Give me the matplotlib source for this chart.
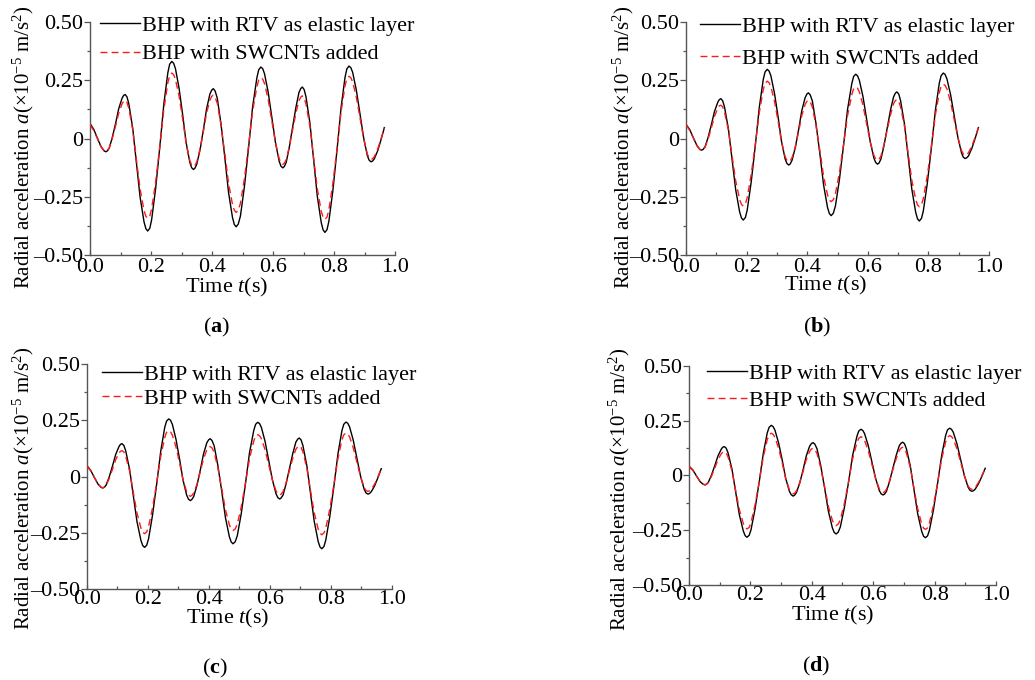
import matplotlib
matplotlib.use("Agg")
import matplotlib.pyplot as plt
from matplotlib.ticker import MultipleLocator, FuncFormatter

plt.rcParams['font.family'] = ['Liberation Serif', 'DejaVu Serif']
plt.rcParams['mathtext.fontset'] = 'custom'
plt.rcParams['mathtext.rm'] = 'Liberation Serif'
plt.rcParams['mathtext.it'] = 'Liberation Serif:italic'
plt.rcParams['mathtext.bf'] = 'Liberation Serif:bold'

# time samples (s): one row per half cycle, starting at each peak/trough
t = [0.000, 0.012, 0.024, 0.036, 0.046,
     0.052, 0.057, 0.063, 0.073, 0.084, 0.094, 0.105, 0.110,
     0.115, 0.121, 0.127, 0.140, 0.152, 0.164, 0.177, 0.183,
     0.189, 0.196, 0.202, 0.215, 0.229, 0.242, 0.255, 0.261,
     0.268, 0.274, 0.280, 0.292, 0.304, 0.315, 0.327, 0.333,
     0.339, 0.344, 0.350, 0.361, 0.372, 0.382, 0.393, 0.399,
     0.404, 0.410, 0.417, 0.429, 0.442, 0.454, 0.467, 0.473,
     0.479, 0.486, 0.493, 0.506, 0.520, 0.533, 0.547, 0.553,
     0.560, 0.566, 0.572, 0.584, 0.596, 0.608, 0.620, 0.626,
     0.632, 0.637, 0.643, 0.653, 0.664, 0.675, 0.685, 0.691,
     0.696, 0.702, 0.708, 0.721, 0.733, 0.745, 0.758, 0.764,
     0.770, 0.777, 0.783, 0.796, 0.810, 0.823, 0.836, 0.842,
     0.849, 0.855, 0.861, 0.873, 0.885, 0.897, 0.909, 0.915,
     0.921, 0.926, 0.932, 0.943, 0.954, 0.965]

# (a)
rtv_a = [0.064, 0.040, 0.002, -0.035, -0.053,
         -0.057, -0.053, -0.041, 0.005, 0.066, 0.128, 0.173, 0.185,
         0.189, 0.179, 0.150, 0.043, -0.104, -0.251, -0.358, -0.387,
         -0.397, -0.385, -0.348, -0.215, -0.033, 0.149, 0.282, 0.319,
         0.331, 0.323, 0.300, 0.215, 0.099, -0.017, -0.102, -0.125,
         -0.133, -0.127, -0.110, -0.046, 0.041, 0.127, 0.191, 0.208,
         0.214, 0.204, 0.174, 0.066, -0.083, -0.231, -0.339, -0.369,
         -0.379, -0.367, -0.333, -0.208, -0.036, 0.136, 0.261, 0.295,
         0.307, 0.300, 0.278, 0.199, 0.091, -0.018, -0.097, -0.119,
         -0.126, -0.120, -0.103, -0.039, 0.048, 0.134, 0.198, 0.215,
         0.221, 0.210, 0.179, 0.065, -0.091, -0.247, -0.361, -0.392,
         -0.403, -0.391, -0.355, -0.225, -0.046, 0.133, 0.263, 0.299,
         0.311, 0.304, 0.284, 0.208, 0.106, 0.003, -0.073, -0.093,
         -0.100, -0.097, -0.087, -0.053, -0.005, 0.047]
swcnt_a = [0.058, 0.035, 0.000, -0.035, -0.052,
           -0.055, -0.051, -0.040, 0.000, 0.055, 0.109, 0.149, 0.160,
           0.164, 0.155, 0.130, 0.037, -0.090, -0.216, -0.309, -0.334,
           -0.343, -0.332, -0.301, -0.187, -0.031, 0.125, 0.239, 0.270,
           0.281, 0.274, 0.254, 0.181, 0.080, -0.021, -0.094, -0.114,
           -0.121, -0.116, -0.100, -0.044, 0.033, 0.109, 0.165, 0.181,
           0.186, 0.177, 0.152, 0.060, -0.066, -0.191, -0.283, -0.308,
           -0.317, -0.307, -0.278, -0.173, -0.028, 0.117, 0.222, 0.251,
           0.261, 0.255, 0.236, 0.168, 0.075, -0.018, -0.086, -0.105,
           -0.111, -0.106, -0.091, -0.038, 0.036, 0.110, 0.163, 0.178,
           0.183, 0.174, 0.148, 0.051, -0.082, -0.215, -0.312, -0.338,
           -0.347, -0.337, -0.306, -0.194, -0.040, 0.114, 0.226, 0.257,
           0.267, 0.261, 0.243, 0.178, 0.089, -0.001, -0.066, -0.084,
           -0.090, -0.087, -0.078, -0.046, -0.001, 0.047]

# (b)
rtv_b = [0.061, 0.039, 0.004, -0.030, -0.047,
         -0.050, -0.046, -0.035, 0.005, 0.061, 0.116, 0.156, 0.167,
         0.171, 0.162, 0.136, 0.041, -0.090, -0.220, -0.315, -0.341,
         -0.350, -0.339, -0.307, -0.188, -0.027, 0.135, 0.254, 0.286,
         0.297, 0.290, 0.270, 0.194, 0.092, -0.011, -0.087, -0.107,
         -0.114, -0.109, -0.093, -0.037, 0.041, 0.119, 0.175, 0.191,
         0.196, 0.187, 0.161, 0.064, -0.068, -0.199, -0.296, -0.322,
         -0.331, -0.321, -0.290, -0.179, -0.028, 0.124, 0.235, 0.266,
         0.276, 0.269, 0.250, 0.180, 0.083, -0.014, -0.084, -0.103,
         -0.110, -0.105, -0.089, -0.033, 0.045, 0.123, 0.179, 0.195,
         0.200, 0.191, 0.163, 0.062, -0.077, -0.216, -0.317, -0.345,
         -0.354, -0.343, -0.312, -0.195, -0.037, 0.122, 0.239, 0.270,
         0.281, 0.275, 0.256, 0.189, 0.098, 0.006, -0.061, -0.080,
         -0.086, -0.083, -0.075, -0.043, 0.000, 0.047]
swcnt_b = [0.058, 0.036, 0.003, -0.031, -0.047,
           -0.050, -0.047, -0.037, -0.002, 0.047, 0.095, 0.130, 0.140,
           0.143, 0.136, 0.114, 0.035, -0.074, -0.182, -0.261, -0.283,
           -0.290, -0.281, -0.254, -0.156, -0.022, 0.112, 0.210, 0.237,
           0.246, 0.240, 0.223, 0.160, 0.073, -0.014, -0.077, -0.094,
           -0.100, -0.096, -0.082, -0.034, 0.032, 0.098, 0.146, 0.160,
           0.164, 0.157, 0.135, 0.055, -0.054, -0.162, -0.242, -0.264,
           -0.271, -0.263, -0.238, -0.148, -0.025, 0.098, 0.188, 0.213,
           0.221, 0.216, 0.200, 0.143, 0.064, -0.015, -0.072, -0.088,
           -0.093, -0.089, -0.076, -0.028, 0.037, 0.102, 0.150, 0.163,
           0.167, 0.159, 0.136, 0.052, -0.063, -0.178, -0.262, -0.285,
           -0.293, -0.284, -0.258, -0.162, -0.030, 0.102, 0.198, 0.224,
           0.233, 0.228, 0.213, 0.157, 0.081, 0.005, -0.051, -0.066,
           -0.071, -0.069, -0.061, -0.033, 0.005, 0.047]

# (c)
rtv_c = [0.048, 0.028, -0.003, -0.033, -0.048,
         -0.051, -0.048, -0.038, -0.002, 0.048, 0.097, 0.133, 0.143,
         0.146, 0.138, 0.115, 0.031, -0.085, -0.200, -0.284, -0.307,
         -0.315, -0.305, -0.277, -0.172, -0.030, 0.113, 0.218, 0.246,
         0.256, 0.250, 0.232, 0.165, 0.075, -0.016, -0.083, -0.101,
         -0.107, -0.102, -0.089, -0.038, 0.031, 0.099, 0.150, 0.163,
         0.168, 0.160, 0.137, 0.051, -0.066, -0.182, -0.268, -0.291,
         -0.299, -0.290, -0.263, -0.164, -0.029, 0.106, 0.205, 0.232,
         0.241, 0.235, 0.218, 0.156, 0.071, -0.015, -0.077, -0.094,
         -0.100, -0.095, -0.082, -0.032, 0.036, 0.103, 0.153, 0.166,
         0.171, 0.163, 0.138, 0.048, -0.075, -0.198, -0.288, -0.313,
         -0.321, -0.311, -0.283, -0.180, -0.040, 0.101, 0.204, 0.232,
         0.242, 0.237, 0.221, 0.162, 0.082, 0.002, -0.057, -0.073,
         -0.078, -0.076, -0.068, -0.042, -0.005, 0.035]
swcnt_c = [0.045, 0.026, -0.004, -0.033, -0.047,
           -0.050, -0.047, -0.039, -0.009, 0.033, 0.074, 0.104, 0.112,
           0.115, 0.109, 0.090, 0.023, -0.070, -0.162, -0.229, -0.248,
           -0.254, -0.246, -0.223, -0.140, -0.025, 0.090, 0.173, 0.196,
           0.204, 0.199, 0.184, 0.131, 0.058, -0.015, -0.068, -0.083,
           -0.088, -0.084, -0.073, -0.033, 0.023, 0.078, 0.118, 0.129,
           0.133, 0.127, 0.108, 0.040, -0.054, -0.147, -0.215, -0.234,
           -0.240, -0.233, -0.212, -0.134, -0.027, 0.080, 0.158, 0.179,
           0.186, 0.181, 0.168, 0.119, 0.052, -0.015, -0.064, -0.077,
           -0.082, -0.078, -0.067, -0.028, 0.027, 0.082, 0.121, 0.132,
           0.136, 0.129, 0.110, 0.037, -0.062, -0.160, -0.233, -0.252,
           -0.259, -0.251, -0.229, -0.146, -0.033, 0.080, 0.163, 0.185,
           0.193, 0.189, 0.176, 0.128, 0.064, -0.001, -0.049, -0.062,
           -0.066, -0.064, -0.057, -0.034, -0.001, 0.035]

# (d)
rtv_d = [0.043, 0.026, -0.001, -0.028, -0.040,
         -0.043, -0.040, -0.031, 0.001, 0.045, 0.088, 0.120, 0.129,
         0.132, 0.125, 0.104, 0.029, -0.075, -0.179, -0.254, -0.275,
         -0.282, -0.273, -0.248, -0.154, -0.027, 0.101, 0.195, 0.220,
         0.229, 0.223, 0.207, 0.148, 0.068, -0.013, -0.072, -0.088,
         -0.094, -0.090, -0.078, -0.033, 0.028, 0.089, 0.134, 0.146,
         0.150, 0.143, 0.122, 0.046, -0.059, -0.163, -0.239, -0.260,
         -0.267, -0.259, -0.235, -0.148, -0.028, 0.092, 0.179, 0.203,
         0.211, 0.206, 0.191, 0.136, 0.061, -0.014, -0.069, -0.084,
         -0.089, -0.085, -0.073, -0.029, 0.032, 0.092, 0.136, 0.148,
         0.152, 0.145, 0.123, 0.043, -0.066, -0.175, -0.255, -0.277,
         -0.284, -0.276, -0.251, -0.159, -0.034, 0.091, 0.183, 0.208,
         0.216, 0.211, 0.197, 0.144, 0.072, 0.000, -0.053, -0.067,
         -0.072, -0.070, -0.063, -0.038, -0.004, 0.033]
swcnt_d = [0.040, 0.024, -0.002, -0.027, -0.040,
           -0.042, -0.039, -0.032, -0.004, 0.034, 0.071, 0.099, 0.106,
           0.109, 0.103, 0.085, 0.021, -0.068, -0.156, -0.220, -0.238,
           -0.244, -0.237, -0.215, -0.135, -0.026, 0.084, 0.164, 0.186,
           0.193, 0.188, 0.174, 0.124, 0.055, -0.015, -0.065, -0.079,
           -0.084, -0.081, -0.070, -0.032, 0.020, 0.072, 0.110, 0.121,
           0.124, 0.118, 0.100, 0.036, -0.053, -0.141, -0.205, -0.223,
           -0.229, -0.222, -0.202, -0.128, -0.026, 0.076, 0.150, 0.170,
           0.177, 0.173, 0.160, 0.113, 0.050, -0.014, -0.061, -0.074,
           -0.078, -0.075, -0.064, -0.026, 0.026, 0.077, 0.115, 0.125,
           0.129, 0.123, 0.104, 0.035, -0.059, -0.152, -0.221, -0.240,
           -0.246, -0.239, -0.217, -0.139, -0.032, 0.075, 0.153, 0.175,
           0.182, 0.178, 0.166, 0.121, 0.060, -0.002, -0.047, -0.059,
           -0.063, -0.061, -0.055, -0.032, -0.001, 0.033]

labels = ['BHP with RTV as elastic layer', 'BHP with SWCNTs added']
panel_names = ['a', 'b', 'c', 'd']
series = [(rtv_a, swcnt_a), (rtv_b, swcnt_b), (rtv_c, swcnt_c), (rtv_d, swcnt_d)]

# layout per panel
rects = [[0.087, 0.625, 0.2947, 0.3426],
         [0.6628, 0.625, 0.2928, 0.3426],
         [0.084, 0.1338, 0.2947, 0.3309],
         [0.6657, 0.1397, 0.2966, 0.3221]]
ylab_pos = [(-0.178, 0.464), (-0.166, 0.464), (-0.168, 0.447), (-0.187, 0.438)]
xlab_pos = [(0.449, -0.09), (0.462, -0.082), (0.462, -0.08), (0.469, -0.086)]
leg_pos = [(0.033, 1.029, 0.36), (0.046, 1.024, 0.5), (0.049, 0.997, 0.14), (0.059, 1.011, 0.27)]
cap_pos = [(217, 327), (817, 327), (215, 668), (816, 666)]
xtick_pad = [2.5, 2.5, 1.0, 1.0]

fig = plt.figure(figsize=(10.35, 6.8), dpi=100)

def yfmt(v, pos):
    if abs(v) < 1e-9:
        return '0'
    return ('%.2f' % v).replace('-', '\u2013')

for i in range(4):
    ax = fig.add_axes(rects[i])
    rtv, swcnt = series[i]
    ax.plot(t, rtv, color='black', lw=1.0, label=labels[0], zorder=2,
            solid_joinstyle='round')
    ax.plot(t, swcnt, color='#ff1a1a', lw=1.0, dashes=(5, 3), label=labels[1], zorder=3,
            dash_joinstyle='round')
    ax.set_xlim(0, 1.0)
    ax.set_ylim(-0.5, 0.5)
    for s in ['top', 'right']:
        ax.spines[s].set_visible(False)
    for s in ['left', 'bottom']:
        ax.spines[s].set_color('#555555')
        ax.spines[s].set_linewidth(1.0)
    ax.xaxis.set_major_locator(MultipleLocator(0.2))
    ax.xaxis.set_minor_locator(MultipleLocator(0.1))
    ax.yaxis.set_major_locator(MultipleLocator(0.25))
    ax.yaxis.set_minor_locator(MultipleLocator(0.125))
    ax.xaxis.set_major_formatter(FuncFormatter(lambda v, p: '%.1f' % v))
    ax.yaxis.set_major_formatter(FuncFormatter(yfmt))
    ax.tick_params(axis='x', which='major', direction='in', length=3.2, width=0.9,
                   color='#555555', labelsize=16, pad=xtick_pad[i])
    ax.tick_params(axis='x', which='minor', direction='in', length=2.5, width=0.9,
                   color='#555555')
    ax.tick_params(axis='y', which='major', direction='out', length=4.3, width=0.9,
                   color='#555555', labelsize=16, pad=0.8)
    ax.tick_params(axis='y', which='minor', direction='out', length=2.5, width=0.9,
                   color='#555555')
    ax.set_ylabel(r'Radial acceleration $\mathit{a}$(×10$^{\mathrm{-5}}$ m/s$^{\mathrm{2}}$)',
                  fontsize=15)
    ax.yaxis.set_label_coords(*ylab_pos[i])
    ax.set_xlabel(r'Time $\mathit{t}$(s)', fontsize=16)
    ax.xaxis.set_label_coords(*xlab_pos[i])
    lx, ly, lsp = leg_pos[i]
    ax.legend(loc='upper left', bbox_to_anchor=(lx, ly), frameon=False, fontsize=16,
              handlelength=1.8, handletextpad=0.1, borderpad=0, borderaxespad=0,
              labelspacing=lsp)
    cx, cy = cap_pos[i]
    fig.text(cx / 1035, 1 - cy / 680, r'($\mathbf{%s}$)' % panel_names[i],
             ha='center', va='center', fontsize=16)

fig.savefig('out.png', dpi=100)
